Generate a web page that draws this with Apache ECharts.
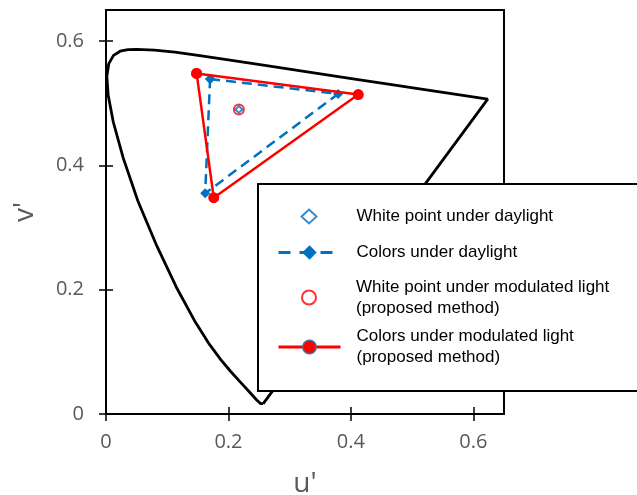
<!DOCTYPE html>
<html>
<head>
<meta charset="utf-8">
<script src="https://cdn.jsdelivr.net/npm/echarts@6/dist/echarts.min.js"></script>
<style>html,body{margin:0;padding:0;background:#fff}#c{width:637px;height:495px}</style>
</head>
<body>
<div id="c"></div>
<script>
// Spectral locus (CIE 1976 u'v'), closed by the purple line back to 380 nm
const locusU = [0.2568, 0.2522, 0.2461, 0.2347, 0.2161, 0.2033, 0.1877, 0.1690, 0.1441, 0.1147, 0.0828, 0.0521, 0.0282, 0.0119, 0.0035, 0.0014, 0.0046, 0.0123, 0.0231, 0.0360, 0.0501, 0.0792, 0.1127, 0.1531, 0.2026, 0.2623, 0.3315, 0.4035, 0.4692, 0.5203, 0.5830, 0.6234, 0.2568];
const locusV = [0.0166, 0.0169, 0.0226, 0.0350, 0.0549, 0.0688, 0.0871, 0.1119, 0.1510, 0.2044, 0.2708, 0.3427, 0.4117, 0.4698, 0.5131, 0.5432, 0.5638, 0.5770, 0.5837, 0.5861, 0.5868, 0.5856, 0.5821, 0.5766, 0.5694, 0.5604, 0.5501, 0.5393, 0.5296, 0.5219, 0.5125, 0.5065, 0.0166];

// Colors under daylight (closed triangle)
const dayU = [0.170, 0.379, 0.162, 0.170];
const dayV = [0.539, 0.515, 0.355, 0.539];
// Colors under modulated light (closed triangle)
const modU = [0.148, 0.412, 0.176, 0.148];
const modV = [0.548, 0.514, 0.348, 0.548];
// White points
const whiteDayU = [0.217];
const whiteDayV = [0.490];
const whiteModU = [0.217];
const whiteModV = [0.490];

const xTicks = [0, 0.2, 0.4, 0.6];
const yTicks = [0, 0.2, 0.4, 0.6];

const names = [
  'White point under daylight',
  'Colors under daylight',
  'White point under modulated light\n(proposed method)',
  'Colors under modulated light\n(proposed method)'
];

const zip = (a, b) => a.map((v, i) => [v, b[i]]);
const BLUE = '#0070C0', RED = '#FF0000';
const tickFont = { fontFamily: 'Open Sans', fontSize: 20, color: '#595959' };

function legend(name, left, top, itemWidth, itemHeight, padLeft, extra) {
  return Object.assign({
    data: [name], left: left, top: top, orient: 'vertical', padding: 0,
    itemWidth: itemWidth, itemHeight: itemHeight, selectedMode: false, z: 20,
    textStyle: { fontFamily: 'Liberation Sans, Arial', fontSize: 17, color: '#000', lineHeight: 21, padding: [0, 0, 0, padLeft] }
  }, extra || {});
}

const chart = echarts.init(document.getElementById('c'), null, { renderer: 'canvas' });
chart.setOption({
  animation: false,
  backgroundColor: '#fff',
  grid: { left: 106, top: 10, width: 398, height: 404, show: true, borderColor: '#000', borderWidth: 2, backgroundColor: 'transparent', outerBoundsMode: 'none', containLabel: false },
  xAxis: {
    type: 'value', min: 0, max: 0.65, offset: -7,
    name: "u'", nameLocation: 'middle', nameGap: 63,
    nameTextStyle: { fontFamily: 'Open Sans', fontSize: 28, color: '#595959' },
    axisLine: { show: false },
    axisTick: { show: true, length: 14, customValues: xTicks, lineStyle: { color: '#000', width: 1.5 } },
    axisLabel: Object.assign({ margin: 25, customValues: xTicks }, tickFont),
    splitLine: { show: false }
  },
  yAxis: {
    type: 'value', min: 0, max: 0.65, offset: -7,
    name: "v'", nameLocation: 'middle', nameGap: 74,
    nameTextStyle: { fontFamily: 'Open Sans', fontSize: 28, color: '#595959' },
    axisLine: { show: false },
    axisTick: { show: true, length: 14, customValues: yTicks, lineStyle: { color: '#000', width: 1.5 } },
    axisLabel: Object.assign({ margin: 29, customValues: yTicks }, tickFont),
    splitLine: { show: false }
  },
  legend: [
    legend(names[0], 300.5, 206, 15, 14, 35, { itemStyle: { borderWidth: 2 } }),
    legend(names[1], 277, 242, 62, 18, 11, { lineStyle: { width: 3, type: [12, 9] } }),
    legend(names[2], 301, 276.5, 14, 14, 35),
    legend(names[3], 277, 326, 62, 17, 11, { lineStyle: { width: 3 }, itemStyle: { borderColor: '#41719C', borderWidth: 1.5 } })
  ],
  graphic: [{
    type: 'rect', z: 10,
    shape: { x: 258, y: 184, width: 400, height: 207 },
    style: { fill: '#fff', stroke: '#000', lineWidth: 2 }
  }],
  series: [
    {
      name: 'locus', type: 'line', data: zip(locusU, locusV), showSymbol: false, symbol: 'none',
      lineStyle: { color: '#000', width: 2.8 }, itemStyle: { color: '#000' }, z: 2, silent: true
    },
    {
      name: names[1], type: 'line', data: zip(dayU, dayV), symbol: 'diamond', symbolSize: 10,
      itemStyle: { color: BLUE }, lineStyle: { color: BLUE, width: 2.5, type: [10, 6] }, z: 3
    },
    {
      name: names[3], type: 'line', data: zip(modU, modV), symbol: 'circle', symbolSize: 11,
      itemStyle: { color: RED }, lineStyle: { color: RED, width: 2.5 }, z: 4
    },
    {
      name: names[2], type: 'scatter', data: zip(whiteModU, whiteModV), symbol: 'emptyCircle', symbolSize: 10,
      itemStyle: { color: RED, borderWidth: 1.5 }, z: 5
    },
    {
      name: names[0], type: 'scatter', data: zip(whiteDayU, whiteDayV), symbol: 'emptyDiamond', symbolSize: 7,
      itemStyle: { color: BLUE, borderWidth: 1.5 }, z: 6
    }
  ]
});
</script>
</body>
</html>
